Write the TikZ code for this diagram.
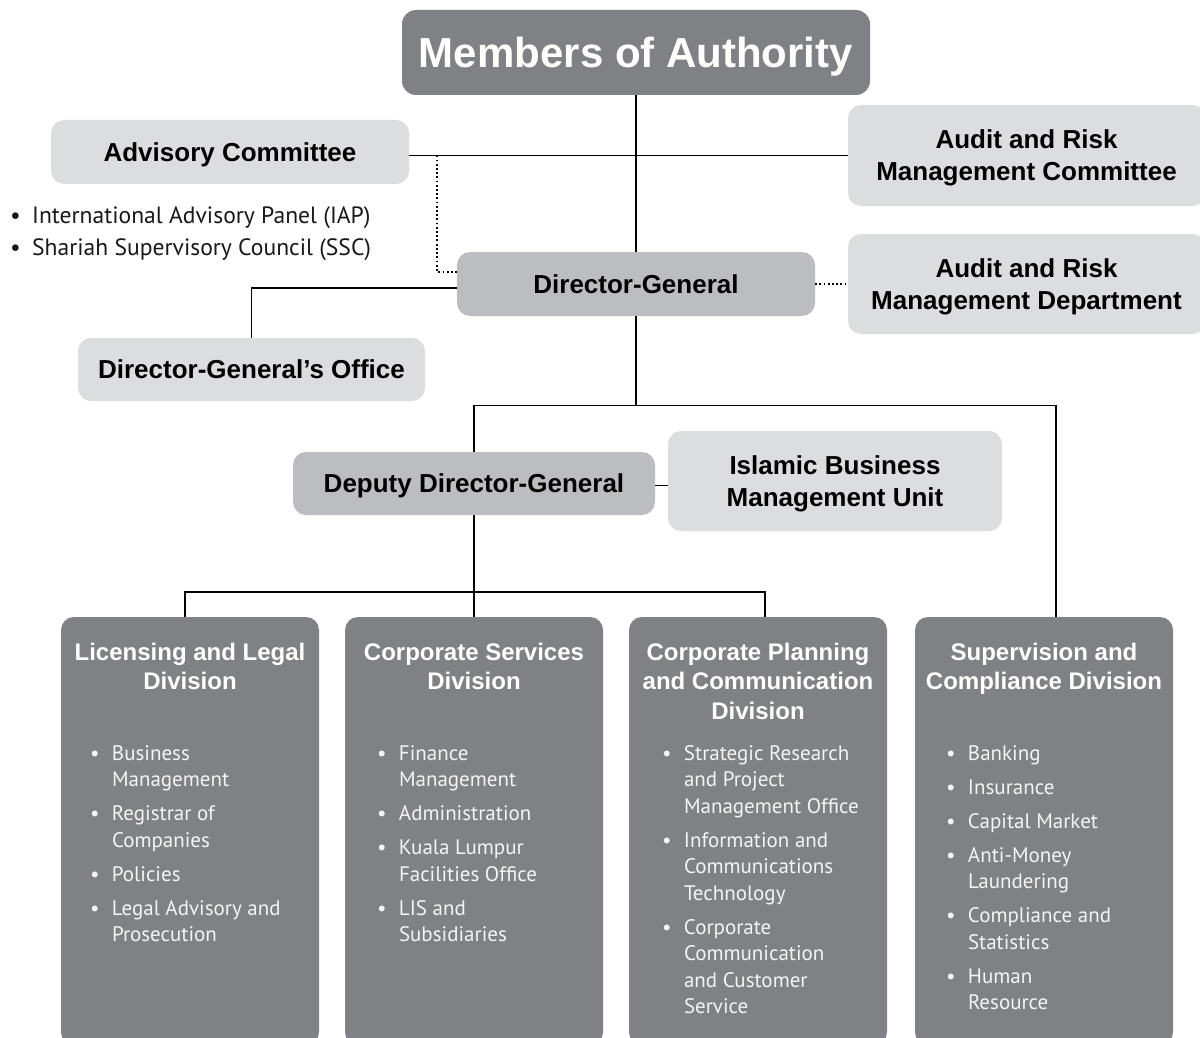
\documentclass[tikz,border=0pt]{standalone}
\usepackage{fontspec}
\setmainfont{Liberation Sans}
\newfontfamily\listfont{PT Sans}
\usetikzlibrary{calc}

\definecolor{boxdark}{HTML}{808185}
\definecolor{boxmid}{HTML}{BCBDC0}
\definecolor{boxlight}{HTML}{DCDDDF}
\definecolor{listtext}{HTML}{F4F4F4}
\newcommand{\bul}{\makebox[22pt][l]{\textbullet}}

\tikzset{
  lightbox/.style={fill=boxlight, rounded corners=13pt, inner sep=0pt, align=center, text depth=0pt, font=\fontsize{26}{32}\selectfont\bfseries},
  midbox/.style={lightbox, fill=boxmid},
  divbox/.style={fill=boxdark, rounded corners=13pt, inner sep=0pt, minimum width=258pt, minimum height=428pt},
  divtitle/.style={anchor=north, inner sep=0pt, text=white, font=\fontsize{24}{29.5}\selectfont\bfseries},
  divlist/.style={anchor=north west, inner sep=0pt, text=listtext, font=\listfont\fontsize{21}{26.5}\selectfont},
  link/.style={line width=1.4pt},
  dotlink/.style={line width=1.8pt, dash pattern=on 1.8pt off 2.4pt},
}

\begin{document}
\begin{tikzpicture}[x=1pt, y=-1pt]
\path[use as bounding box, fill=white] (0,0) rectangle (1200,1038);

% board and committees
\node[lightbox, fill=boxdark, text=white, rounded corners=14pt, minimum width=468pt, minimum height=85pt, font=\fontsize{42}{50}\selectfont\bfseries] (moa) at (636,52.5) {Members of Authority};
\node[lightbox, minimum width=358pt, minimum height=64pt] (adv) at (230,152) {Advisory Committee};
\node[lightbox, minimum width=357pt, minimum height=101pt] (arc) at (1026.5,155.5) {Audit and Risk\\Management Committee};
\node[anchor=north west, inner sep=0pt, text=black!90, font=\listfont\fontsize{23.6}{32}\selectfont] (panels) at (10,200.6) {\begin{tabular}{@{}l@{}l@{}}
\bul & International Advisory Panel (IAP)\\
\bul & Shariah Supervisory Council (SSC)
\end{tabular}};

% management
\node[midbox, minimum width=358pt, minimum height=64pt] (dg) at (636,284) {Director-General};
\node[lightbox, minimum width=357pt, minimum height=100pt] (ard) at (1026.5,284) {Audit and Risk\\Management Department};
\node[lightbox, minimum width=347pt, minimum height=63pt] (dgo) at (251.5,369.5) {Director-General's Office};
\node[midbox, minimum width=362pt, minimum height=63pt] (dep) at (474,483.5) {Deputy Director-General};
\node[lightbox, minimum width=334pt, minimum height=100pt] (ibm) at (835,481) {Islamic Business\\Management Unit};

% divisions
\node[divbox] (div1) at (190,831) {};
\node[divbox] (div2) at (474,831) {};
\node[divbox] (div3) at (758,831) {};
\node[divbox] (div4) at (1044,831) {};

\node[divtitle] (t1) at ($(div1.north)+(0,22.4)$) {\begin{tabular}{@{}c@{}}Licensing and Legal\\Division\end{tabular}};
\node[divtitle] (t2) at ($(div2.north)+(0,22.4)$) {\begin{tabular}{@{}c@{}}Corporate Services\\Division\end{tabular}};
\node[divtitle] (t3) at ($(div3.north)+(0,22.4)$) {\begin{tabular}{@{}c@{}}Corporate Planning\\and Communication\\Division\end{tabular}};
\node[divtitle] (t4) at ($(div4.north)+(0,22.4)$) {\begin{tabular}{@{}c@{}}Supervision and\\Compliance Division\end{tabular}};

\node[divlist] (l1) at ($(div1.north west)+(29,124.5)$) {\begin{tabular}{@{}l@{}l@{}}
\bul & Business\\ & Management\\[7.5pt]
\bul & Registrar of\\ & Companies\\[7.5pt]
\bul & Policies\\[7.5pt]
\bul & Legal Advisory and\\ & Prosecution
\end{tabular}};
\node[divlist] (l2) at ($(div2.north west)+(32,124.5)$) {\begin{tabular}{@{}l@{}l@{}}
\bul & Finance\\ & Management\\[7.5pt]
\bul & Administration\\[7.5pt]
\bul & Kuala Lumpur\\ & Facilities Office\\[7.5pt]
\bul & LIS and\\ & Subsidiaries
\end{tabular}};
\node[divlist] (l3) at ($(div3.north west)+(33,124.5)$) {\begin{tabular}{@{}l@{}l@{}}
\bul & Strategic Research\\ & and Project\\ & Management Office\\[7.5pt]
\bul & Information and\\ & Communications\\ & Technology\\[7.5pt]
\bul & Corporate\\ & Communication\\ & and Customer\\ & Service
\end{tabular}};
\node[divlist] (l4) at ($(div4.north west)+(31,124.5)$) {\begin{tabular}{@{}l@{}l@{}}
\bul & Banking\\[7.5pt]
\bul & Insurance\\[7.5pt]
\bul & Capital Market\\[7.5pt]
\bul & Anti-Money\\ & Laundering\\[7.5pt]
\bul & Compliance and\\ & Statistics\\[7.5pt]
\bul & Human\\ & Resource
\end{tabular}};

% lines
\draw[link] (moa.south) -- (dg.north);
\draw[link] (adv.east |- arc.west) -- (arc.west);
\draw[dotlink] ($(adv.east |- arc.west)+(28,0)$) |- ([yshift=12pt]dg.west);
\draw[dotlink] (dg.east) -- (ard.west);
\draw[link] ([yshift=-4pt]dg.west) -| (dgo.north);
\draw[link] (dg.south) -- ++(0,89) coordinate (bar1);
\draw[link] (dep.north) |- ([xshift=12pt]div4.north |- bar1) -- ([xshift=12pt]div4.north);
\draw[link] ([yshift=-2pt]dep.east) -- ([yshift=-2pt]dep.east -| ibm.west);
\draw[link] (dep.south) -- (div2.north);
\draw[link] ([xshift=-5pt]div1.north) -- ++(0,-25) -| ([xshift=7pt]div3.north);
\end{tikzpicture}
\end{document}
